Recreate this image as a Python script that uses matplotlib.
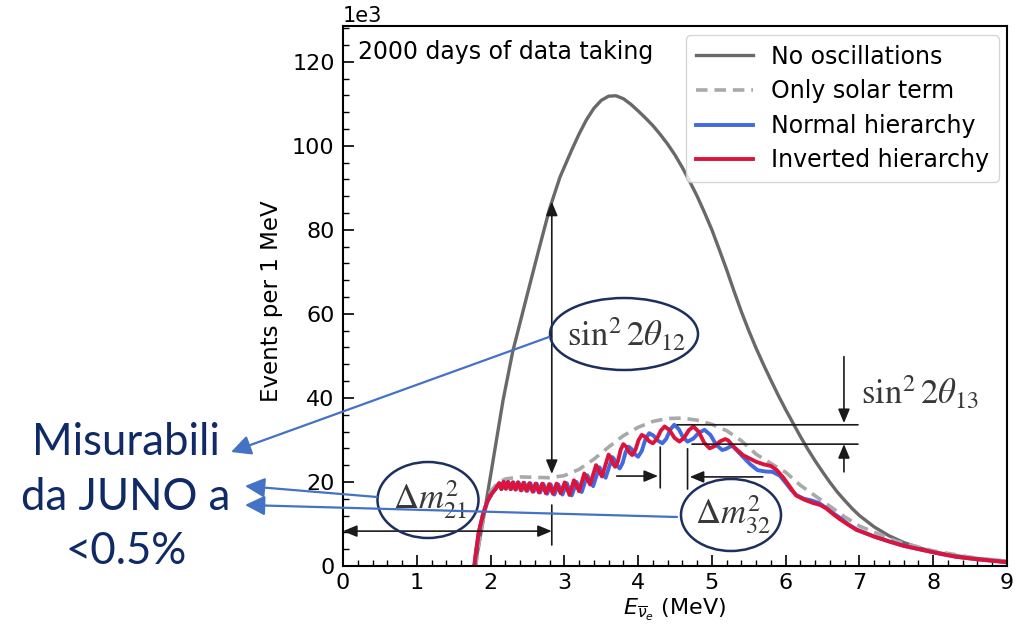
import matplotlib.pyplot as plt
from matplotlib.patches import Ellipse, FancyArrowPatch
from matplotlib.ticker import MultipleLocator
import numpy as np

# energies in MeV, events per MeV in thousands
e_noosc = [1.79, 1.9, 2.0, 2.17, 2.3, 2.49, 2.65, 2.8, 2.94, 3.1, 3.2, 3.3, 3.4, 3.5,
           3.6, 3.7, 3.8, 3.9, 4.0, 4.1, 4.2, 4.3, 4.4, 4.5, 4.6, 4.7, 4.8, 4.9, 5.0,
           5.1, 5.2, 5.3, 5.4, 5.5, 5.6, 5.7, 5.8, 5.9, 6.0, 6.1, 6.2, 6.3, 6.4, 6.5,
           6.6, 6.7, 6.8, 6.9, 7.0, 7.2, 7.4, 7.6, 7.8, 8.0, 8.25, 8.5, 8.75, 9.0]
n_noosc = [0, 11, 21.5, 39.5, 51, 64.1, 75, 85, 92.5, 99.0, 102.8, 106.2, 108.9, 110.8,
           111.8, 111.9, 111.2, 109.9, 108.3, 106.6, 104.8, 102.7, 100.4, 97.8, 94.8, 91.5,
           88.0, 84.1, 80.0, 75.3, 70.5, 65.4, 60.5, 56.0, 51.8, 47.9, 44.2, 40.6, 37.2,
           34.0, 30.8, 27.8, 25.0, 22.4, 19.9, 17.6, 15.6, 13.7, 12.0, 9.3, 7.2, 5.6, 4.4,
           3.4, 2.6, 2.0, 1.5, 1.2]

e_solar = [1.8, 1.85, 1.9, 1.95, 2.0, 2.1, 2.2, 2.4, 2.6, 2.8, 3.0, 3.2, 3.4, 3.6, 3.8,
           4.0, 4.2, 4.4, 4.6, 4.8, 5.0, 5.2, 5.4, 5.6, 5.8, 6.0, 6.2, 6.4, 6.6, 6.8, 7.0,
           7.5, 8.0, 8.5, 9.0]
n_solar = [0, 6, 11, 15, 17.8, 19.8, 20.7, 21.2, 21.1, 21.0, 21.5, 23.0, 25.4, 28.3, 31.0,
           33.0, 34.4, 35.1, 35.2, 34.7, 33.7, 32.2, 29.8, 26.6, 24.4, 22.3, 19.2, 16.7, 14.2,
           11.7, 9.5, 5.9, 3.6, 2.1, 1.1]

e_nh = [1.78, 1.80, 1.84, 1.90, 1.96, 2.02, 2.07,
        2.12, 2.15, 2.18, 2.212, 2.24, 2.28, 2.31, 2.345, 2.38, 2.422, 2.457, 2.50,
        2.54, 2.585, 2.625, 2.672, 2.717, 2.768, 2.815, 2.866, 2.918, 2.975, 3.033,
        3.10, 3.165, 3.235, 3.31, 3.39, 3.475, 3.56, 3.65, 3.683, 3.717, 3.75,
        3.79, 3.83, 3.87, 3.913, 3.957, 4.00, 4.05, 4.10, 4.15, 4.21, 4.27, 4.33,
        4.383, 4.437, 4.49, 4.55, 4.61, 4.67, 4.747, 4.823, 4.90, 4.98, 5.06, 5.14,
        5.19, 5.24, 5.28, 5.42, 5.52, 5.62, 5.72, 5.82, 5.92, 6.0, 6.08, 6.15, 6.25,
        6.35, 6.45, 6.55, 6.64, 6.75, 6.85, 6.96, 7.2, 7.41, 7.6, 7.86, 8.1, 8.31,
        8.6, 9.0]
n_nh = [0, 3, 8, 12.5, 15.5, 17.3, 18.4,
        19.7, 18.3, 20.0, 18.4, 20.0, 18.3, 19.9, 18.2, 19.9, 18.0, 19.8, 17.9,
        19.7, 17.7, 19.6, 17.5, 19.5, 17.2, 19.4, 17.0, 19.4, 17.0, 19.7,
        16.8, 20.0, 17.6, 21.6, 19.0, 23.5, 21.0, 25.9, 25.25, 23.85, 23.2,
        24.5, 27.1, 28.4, 27.8, 26.6, 26.0, 27.4, 30.2, 31.6, 31.0, 29.8, 29.2,
        30.3, 32.5, 33.6, 32.6, 30.6, 29.6, 30.3, 31.7, 32.4, 31.2, 28.8, 27.6,
        27.85, 28.35, 28.6, 26.0, 24.2, 22.8, 22.5, 22.4, 21.5, 19.8, 18.0, 16.8, 16.0,
        15.6, 15.0, 13.8, 12.6, 11.3, 9.9, 8.7, 7.0, 5.8, 4.8, 3.8, 2.9, 2.2,
        1.6, 0.9]

e_ih = [1.78, 1.80, 1.84, 1.90, 1.96, 2.02, 2.07,
        2.115, 2.145, 2.175, 2.205, 2.235, 2.27, 2.30, 2.335, 2.37, 2.41, 2.445, 2.485,
        2.525, 2.57, 2.61, 2.655, 2.70, 2.75, 2.795, 2.845, 2.895, 2.95, 3.005,
        3.07, 3.13, 3.20, 3.27, 3.35, 3.43, 3.51, 3.60, 3.63, 3.66, 3.69,
        3.727, 3.763, 3.80, 3.84, 3.88, 3.92, 3.963, 4.007, 4.05, 4.10, 4.15, 4.20,
        4.253, 4.307, 4.36, 4.427, 4.493, 4.56, 4.623, 4.687, 4.75, 4.823, 4.897, 4.97,
        5.04, 5.11, 5.18, 5.22, 5.30, 5.42, 5.6, 5.7, 5.8, 5.88, 5.97, 6.06, 6.14,
        6.25, 6.37, 6.47, 6.55, 6.64, 6.73, 6.85, 6.96, 7.2, 7.41, 7.6, 7.86, 8.1,
        8.31, 8.6, 9.0]
n_ih = [0, 3, 8, 12.5, 15.5, 17.3, 18.4,
        19.7, 18.3, 20.0, 18.4, 20.0, 18.3, 19.9, 18.2, 19.9, 18.0, 19.8, 17.9,
        19.7, 17.7, 19.6, 17.5, 19.6, 17.3, 19.5, 17.2, 19.6, 17.3, 19.9,
        16.9, 20.4, 17.8, 22.0, 19.4, 24.0, 21.3, 26.5, 25.8, 24.3, 23.6,
        24.95, 27.65, 29.0, 28.35, 27.05, 26.4, 27.6, 30.0, 31.2, 30.7, 29.7, 29.2,
        30.2, 32.2, 33.2, 32.3, 30.5, 29.6, 30.5, 32.3, 33.2, 31.9, 29.3, 28.0,
        28.55, 29.65, 30.2, 29.9, 28.3, 26.4, 24.8, 24.2, 23.8, 22.8, 21.0, 18.8, 16.8,
        15.8, 15.0, 14.5, 13.7, 12.4, 11.2, 9.8, 8.6, 7.0, 5.8, 4.8, 3.8, 2.9,
        2.2, 1.6, 0.9]

labels = ['No oscillations', 'Only solar term', 'Normal hierarchy', 'Inverted hierarchy']
K = 1000.0

W, H = 1028, 629
fig = plt.figure(figsize=(W / 100, H / 100), dpi=100)
ax = fig.add_axes([343 / W, 1 - 566 / H, 664 / W, 540 / H])


def fpx(x, y):
    # pixel position (from top left) -> figure fraction
    return (x / W, 1 - y / H)


ax.plot(e_noosc, np.array(n_noosc) * K, color='dimgray', lw=2.4, label=labels[0])
ax.plot(e_solar, np.array(n_solar) * K, color='darkgray', lw=2.6, ls=(0, (3.2, 1.9)), label=labels[1])
ax.plot(e_nh, np.array(n_nh) * K, color='royalblue', lw=2.8, label=labels[2])
ax.plot(e_ih, np.array(n_ih) * K, color='crimson', lw=2.8, label=labels[3])

ax.set_xlim(0, 9)
ax.set_ylim(0, 128.5 * K)
ax.xaxis.set_major_locator(MultipleLocator(1))
ax.xaxis.set_minor_locator(MultipleLocator(0.2))
ax.yaxis.set_major_locator(MultipleLocator(20 * K))
ax.yaxis.set_minor_locator(MultipleLocator(4 * K))
ax.ticklabel_format(axis='y', style='sci', scilimits=(3, 3))
ax.yaxis.get_offset_text().set_fontsize(15)
ax.tick_params(which='both', direction='in', top=False, right=False, labelsize=16)
ax.tick_params(which='major', length=8, width=1.2)
ax.tick_params(which='minor', length=4, width=1.0)
ax.tick_params(axis='y', pad=6)
ax.tick_params(axis='x', pad=5)
for s in ax.spines.values():
    s.set_linewidth(1.5)

ax.set_xlabel(r'$E_{\overline{\nu}_e}$ (MeV)', fontsize=16, labelpad=3)
ax.set_ylabel('Events per 1 MeV', fontsize=16.5)
ax.yaxis.set_label_coords(-0.09, 0.49)

ax.text(0.023, 0.952, '2000 days of data taking', transform=ax.transAxes,
        fontsize=17, va='center', ha='left')

ax.legend(loc='upper right', bbox_to_anchor=(0.988, 0.983), borderaxespad=0,
          fontsize=17, handlelength=2.4, labelspacing=0.45, framealpha=0.8)

# black measuring arrows (data coordinates)
def mark(x0, y0, x1, y1, style):
    st = style if style == '-' else style + ',head_length=0.6,head_width=0.25'
    ax.annotate('', xy=(x1, y1 * K), xytext=(x0, y0 * K), annotation_clip=False,
                arrowprops=dict(arrowstyle=st, color='#1a1a1a', lw=1.2,
                                shrinkA=0, shrinkB=0, mutation_scale=14))


mark(2.83, 21.9, 2.83, 86.7, '<|-|>')
mark(2.83, 14.5, 2.83, 5.0, '-')
mark(0.0, 8.3, 2.83, 8.3, '<|-|>')
mark(6.79, 49.8, 6.79, 34.0, '-|>')
mark(6.79, 22.4, 6.79, 29.0, '-|>')
mark(4.53, 33.6, 6.98, 33.6, '-')
mark(4.73, 29.0, 6.98, 29.0, '-')
mark(4.30, 28.3, 4.30, 18.6, '-')
mark(4.67, 27.9, 4.67, 18.3, '-')
mark(3.71, 21.4, 4.27, 21.4, '-|>')
mark(5.69, 21.2, 4.70, 21.2, '-|>')

# ellipses with parameter names
navy = '#1c2f5e'
for cx, cy, w, h, txt in [(624, 334, 148, 72, r'$\sin^2 2\theta_{12}$'),
                          (428, 500, 101, 76, r'$\Delta m^2_{21}$'),
                          (731, 515, 100, 72, r'$\Delta m^2_{32}$')]:
    fig.add_artist(Ellipse(fpx(cx, cy), w / W, h / H, transform=fig.transFigure,
                           fill=False, ec=navy, lw=1.8, zorder=5))
    fig.text(*fpx(cx + 2, cy), txt, ha='center', va='center', fontsize=25,
             color='#383838', math_fontfamily='stix')

fig.text(*fpx(920, 392), r'$\sin^2 2\theta_{13}$', ha='center', va='center',
         fontsize=25, color='#383838', math_fontfamily='stix')

# blue connectors to the side note
for a, b in [((549, 337), (231, 452)), ((377, 497), (245, 486)), ((677, 517), (245, 505))]:
    fig.add_artist(FancyArrowPatch(fpx(*a), fpx(*b), transform=fig.transFigure,
                                   arrowstyle='-|>,head_length=0.6,head_width=0.3',
                                   mutation_scale=20, color='#4472c4', lw=1.6,
                                   shrinkA=0, shrinkB=0, zorder=6))

fig.text(*fpx(126, 497), 'Misurabili\nda JUNO a\n<0.5%', ha='center', va='center',
         fontsize=31.5, family='Lato', color='#0f2a66', linespacing=1.4)

fig.savefig('out.png', dpi=100)
